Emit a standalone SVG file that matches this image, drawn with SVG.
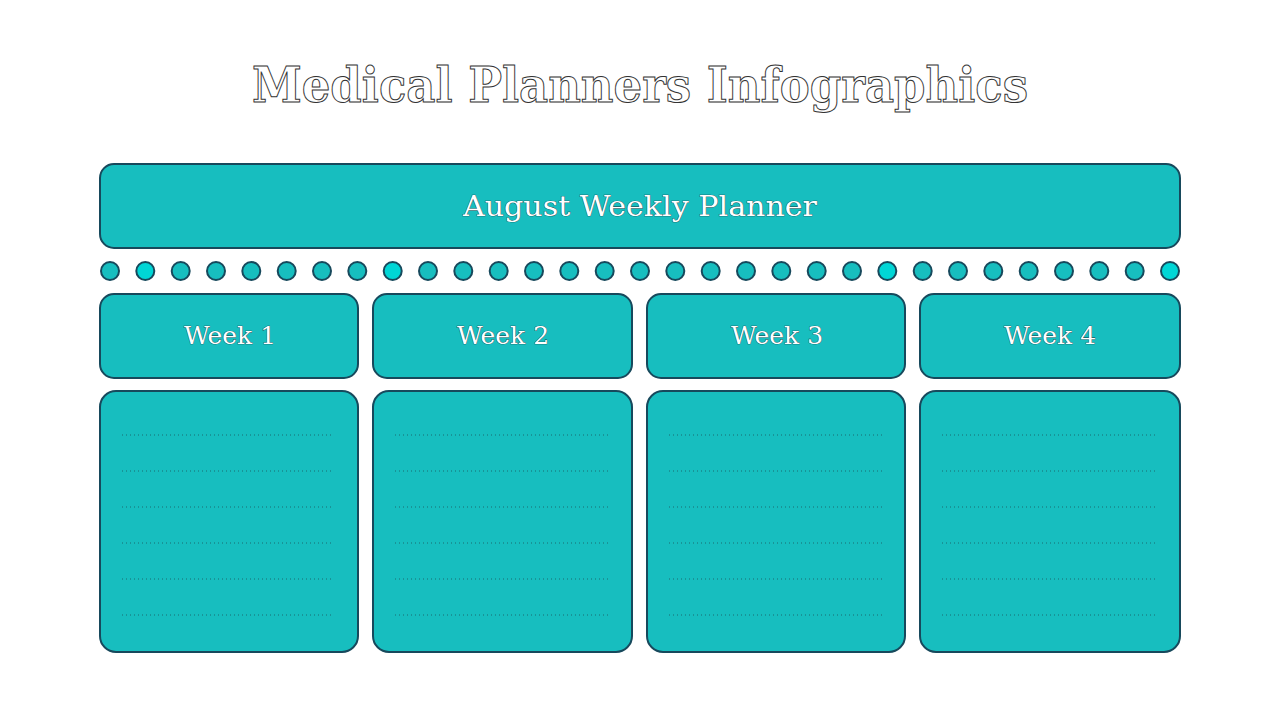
<svg xmlns="http://www.w3.org/2000/svg" width="1280" height="720" viewBox="0 0 1280 720">
<style>
.box{fill:#17bebf;stroke:#17495c;stroke-width:2}
.t{font-family:"DejaVu Serif","Liberation Serif",serif;fill:#fff;text-anchor:middle}
.lb{stroke:#1a3a40;stroke-width:0.7;paint-order:stroke}
.dl{stroke:#1a6a70;stroke-width:1;stroke-dasharray:1 3}
.d{fill:#17bebf;stroke:#17495c;stroke-width:2}
.db{fill:#00d6d6;stroke:#17495c;stroke-width:2}
</style>
<rect width="1280" height="720" fill="#fff"/>
<text class="t" x="640" y="102" font-size="48" font-weight="bold" stroke="#333" stroke-width="1" textLength="776" lengthAdjust="spacingAndGlyphs">Medical Planners Infographics</text>
<g id="header"><rect class="box" x="100" y="164" width="1080" height="84" rx="14"/>
<text class="t lb" x="640" y="216" font-size="28" textLength="354" lengthAdjust="spacingAndGlyphs">August Weekly Planner</text></g>
<g id="dots">
<circle class="d" cx="110" cy="271" r="9"/><circle class="db" cx="145.3" cy="271" r="9"/><circle class="d" cx="180.7" cy="271" r="9"/><circle class="d" cx="216" cy="271" r="9"/><circle class="d" cx="251.3" cy="271" r="9"/><circle class="d" cx="286.7" cy="271" r="9"/><circle class="d" cx="322" cy="271" r="9"/><circle class="d" cx="357.3" cy="271" r="9"/><circle class="db" cx="392.7" cy="271" r="9"/><circle class="d" cx="428" cy="271" r="9"/><circle class="d" cx="463.3" cy="271" r="9"/><circle class="d" cx="498.7" cy="271" r="9"/><circle class="d" cx="534" cy="271" r="9"/><circle class="d" cx="569.3" cy="271" r="9"/><circle class="d" cx="604.7" cy="271" r="9"/><circle class="d" cx="640" cy="271" r="9"/><circle class="d" cx="675.3" cy="271" r="9"/><circle class="d" cx="710.7" cy="271" r="9"/><circle class="d" cx="746" cy="271" r="9"/><circle class="d" cx="781.3" cy="271" r="9"/><circle class="d" cx="816.7" cy="271" r="9"/><circle class="d" cx="852" cy="271" r="9"/><circle class="db" cx="887.3" cy="271" r="9"/><circle class="d" cx="922.7" cy="271" r="9"/><circle class="d" cx="958" cy="271" r="9"/><circle class="d" cx="993.3" cy="271" r="9"/><circle class="d" cx="1028.7" cy="271" r="9"/><circle class="d" cx="1064" cy="271" r="9"/><circle class="d" cx="1099.3" cy="271" r="9"/><circle class="d" cx="1134.7" cy="271" r="9"/><circle class="db" cx="1170" cy="271" r="9"/>
</g>
<g id="week1"><rect class="box" x="100" y="294" width="258" height="84" rx="14"/><text class="t lb" x="230" y="344" font-size="25">Week 1</text></g>
<g id="week2"><rect class="box" x="373" y="294" width="259" height="84" rx="14"/><text class="t lb" x="503" y="344" font-size="25">Week 2</text></g>
<g id="week3"><rect class="box" x="647" y="294" width="258" height="84" rx="14"/><text class="t lb" x="777" y="344" font-size="25">Week 3</text></g>
<g id="week4"><rect class="box" x="920" y="294" width="260" height="84" rx="14"/><text class="t lb" x="1050" y="344" font-size="25">Week 4</text></g>
<g id="body1"><rect class="box" x="100" y="391" width="258" height="261" rx="16"/>
<path class="dl" d="M122 435H334M122 471H334M122 507H334M122 543H334M122 579H334M122 615H334"/></g>
<g id="body2"><rect class="box" x="373" y="391" width="259" height="261" rx="16"/>
<path class="dl" d="M395 435H608M395 471H608M395 507H608M395 543H608M395 579H608M395 615H608"/></g>
<g id="body3"><rect class="box" x="647" y="391" width="258" height="261" rx="16"/>
<path class="dl" d="M669 435H882M669 471H882M669 507H882M669 543H882M669 579H882M669 615H882"/></g>
<g id="body4"><rect class="box" x="920" y="391" width="260" height="261" rx="16"/>
<path class="dl" d="M942 435H1156M942 471H1156M942 507H1156M942 543H1156M942 579H1156M942 615H1156"/></g>
<g id="connectors"/>
</svg>
